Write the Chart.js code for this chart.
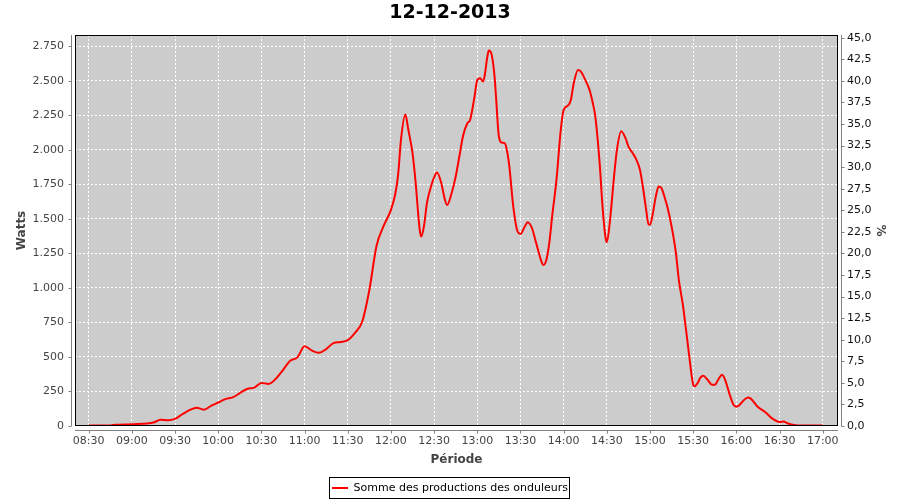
<!DOCTYPE html>
<html><head><meta charset="utf-8">
<script src="https://cdn.jsdelivr.net/npm/chart.js@4.4.1/dist/chart.umd.min.js"></script>
<style>html,body{margin:0;padding:0;background:#fff}canvas{display:block}</style>
</head><body>
<canvas id="c" width="900" height="500"></canvas>
<script>
const chartTitle = '12-12-2013';
const seriesName = 'Somme des productions des onduleurs';
const xAxisTitle = 'Période';
const yAxisTitle = 'Watts';
const y2AxisTitle = '%';

const times = ['08:30','08:35','08:40','08:45','08:47','08:50','08:55','09:00','09:05','09:10','09:15','09:20','09:25','09:30','09:35','09:40','09:45','09:50','09:55','10:00','10:05','10:10','10:15','10:20','10:25','10:30','10:35','10:40','10:45','10:50','10:55','11:00','11:05','11:10','11:15','11:20','11:25','11:30','11:35','11:40','11:45','11:50','11:55','12:00','12:03','12:05','12:07','12:10','12:12','12:15','12:17','12:20','12:21','12:23','12:25','12:28','12:30','12:32','12:35','12:37','12:39','12:42','12:45','12:48','12:50','12:53','12:55','12:58','13:00','13:02','13:04','13:05','13:07','13:08','13:10','13:12','13:13','13:15','13:17','13:19','13:20','13:22','13:25','13:28','13:30','13:33','13:35','13:38','13:40','13:45','13:46','13:48','13:50','13:52','13:55','13:58','14:00','14:03','14:05','14:07','14:10','14:12','14:15','14:18','14:20','14:22','14:25','14:27','14:29','14:30','14:32','14:35','14:37','14:40','14:43','14:45','14:48','14:50','14:53','14:55','14:57','14:59','15:00','15:02','15:04','15:06','15:08','15:10','15:12','15:15','15:18','15:20','15:23','15:25','15:27','15:29','15:30','15:31','15:33','15:35','15:37','15:40','15:43','15:45','15:48','15:50','15:52','15:55','15:58','16:00','16:02','16:05','16:08','16:10','16:15','16:20','16:25','16:30','16:33','16:35','16:40','16:45','16:50','16:55','17:00'];
const watts = [3,3,3,3,8,9,10,12,15,18,25,45,42,52,85,115,133,118,145,170,195,207,238,268,278,312,305,342,405,473,497,578,547,530,557,600,608,622,675,755,985,1305,1450,1565,1680,1820,2075,2255,2150,1975,1780,1420,1372,1450,1614,1740,1800,1835,1758,1660,1600,1680,1806,1980,2096,2190,2216,2380,2506,2518,2494,2530,2675,2718,2687,2530,2385,2096,2052,2048,2023,1903,1589,1408,1391,1444,1476,1433,1360,1179,1165,1203,1324,1517,1782,2144,2289,2320,2361,2482,2578,2566,2506,2433,2349,2240,1903,1589,1372,1330,1469,1806,2000,2135,2084,2023,1975,1939,1855,1734,1589,1460,1457,1541,1661,1734,1722,1661,1589,1444,1252,1059,865,697,528,359,299,287,310,350,364,335,299,299,347,371,340,239,154,140,150,185,207,198,137,101,53,29,33,22,7,3,3,3,3];

const xTickLabels = ['08:30','09:00','09:30','10:00','10:30','11:00','11:30','12:00','12:30','13:00','13:30','14:00','14:30','15:00','15:30','16:00','16:30','17:00'];
const wattTicks = [0,250,500,750,1000,1250,1500,1750,2000,2250,2500,2750];
const pctTicks = [0,2.5,5,7.5,10,12.5,15,17.5,20,22.5,25,27.5,30,32.5,35,37.5,40,42.5,45];
const xMinMinutes = 500.5, xMaxMinutes = 1030.6;
const wattMax = 2831, pctMax = 45.31;

const toMin = s => { const [h, m] = s.split(':').map(Number); return h * 60 + m; };
const fmtW = v => String(v).replace(/\B(?=(\d{3})+(?!\d))/g, '.');
const fmtPct = v => v.toFixed(1).replace('.', ',');

Chart.defaults.font.family = "'DejaVu Sans', sans-serif";

const framePlugin = {
  id: 'frame',
  afterUpdate(chart) {
    const lg = chart.legend;
    if (lg) {
      lg.top += 3.5; lg.bottom += 3.5;
      (lg.legendHitBoxes || []).forEach(h => { h.top += 3.5; });
    }
  },
  beforeDraw(chart) {
    const {ctx, chartArea: a} = chart;
    ctx.save();
    ctx.fillStyle = '#CCCCCC';
    ctx.fillRect(a.left, a.top, a.right - a.left, a.bottom - a.top);
    ctx.restore();
  },
  afterDraw(chart) {
    const {ctx, chartArea: a, scales} = chart;
    ctx.save();
    ctx.strokeStyle = '#000';
    ctx.lineWidth = 1;
    ctx.strokeRect(a.left + 0.5, a.top + 0.5, a.right - a.left - 1, a.bottom - a.top - 1);
    ctx.strokeStyle = '#808080';
    ctx.beginPath();
    const lx = a.left - 3.5;
    ctx.moveTo(lx, a.top); ctx.lineTo(lx, a.bottom);
    scales.y.ticks.forEach(t => { const p = Math.round(scales.y.getPixelForValue(t.value)) + 0.5; ctx.moveTo(lx - 3, p); ctx.lineTo(lx, p); });
    const rx = a.right + 3.5;
    ctx.moveTo(rx, a.top); ctx.lineTo(rx, a.bottom);
    scales.y2.ticks.forEach(t => { const p = Math.round(scales.y2.getPixelForValue(t.value)) + 0.5; ctx.moveTo(rx, p); ctx.lineTo(rx + 3, p); });
    const by = a.bottom + 4.5;
    ctx.moveTo(a.left, by); ctx.lineTo(a.right, by);
    scales.x.ticks.forEach(t => { const p = Math.round(scales.x.getPixelForValue(t.value)) + 0.5; ctx.moveTo(p, by); ctx.lineTo(p, by + 3); });
    ctx.stroke();
    const lg = chart.legend;
    if (lg && lg.legendHitBoxes && lg.legendHitBoxes.length) {
      const h = lg.legendHitBoxes[0];
      ctx.strokeStyle = '#000';
      ctx.strokeRect(Math.round(h.left) - 2.5, Math.round(h.top + h.height / 2) - 10.5, Math.round(h.width) + 4, 21);
    }
    ctx.restore();
  }
};

new Chart(document.getElementById('c'), {
  type: 'line',
  data: {
    datasets: [{
      label: seriesName,
      data: times.map((t, i) => ({x: toMin(t), y: watts[i]})),
      borderColor: '#FF0000',
      backgroundColor: '#FF0000',
      borderWidth: 2,
      pointRadius: 0,
      fill: false,
      cubicInterpolationMode: 'monotone',
      yAxisID: 'y'
    }]
  },
  options: {
    responsive: false,
    animation: false,
    layout: {padding: 0},
    plugins: {
      title: {display: true, text: chartTitle, color: '#000', font: {size: 19, weight: 'bold'}, padding: {top: 1.6, bottom: 10.6}},
      legend: {
        position: 'bottom',
        labels: {usePointStyle: true, pointStyle: 'line', pointStyleWidth: 16, color: '#000', font: {size: 11}, padding: 6}
      },
      tooltip: {enabled: false}
    },
    scales: {
      x: {
        type: 'linear', position: 'bottom', min: xMinMinutes, max: xMaxMinutes,
        afterBuildTicks: s => { s.ticks = xTickLabels.map(l => ({value: toMin(l)})); },
        afterFit: s => { s.height = 47; },
        ticks: {autoSkip: false, maxRotation: 0, color: '#444', font: {size: 11}, padding: 3,
          callback: (v, i) => xTickLabels[i]},
        grid: {color: '#FFFFFF', lineWidth: 1, tickLength: 6, tickColor: 'rgba(0,0,0,0)'},
        border: {display: false, dash: [2, 2]},
        title: {display: true, text: xAxisTitle, color: '#444', font: {size: 12, weight: 'bold'}, padding: {top: 0, bottom: 5.8}}
      },
      y: {
        type: 'linear', position: 'left', min: 0, max: wattMax,
        afterBuildTicks: s => { s.ticks = wattTicks.map(v => ({value: v})); },
        afterFit: s => { s.width = 75; },
        ticks: {color: '#444', font: {size: 11}, padding: 5, callback: v => fmtW(v)},
        grid: {color: '#FFFFFF', lineWidth: 1, tickLength: 6, tickColor: 'rgba(0,0,0,0)'},
        border: {display: false, dash: [2, 2]},
        title: {display: true, text: yAxisTitle, color: '#444', font: {size: 12, weight: 'bold'}, padding: {top: 14.3, bottom: 0}}
      },
      y2: {
        type: 'linear', position: 'right', min: 0, max: pctMax,
        afterBuildTicks: s => { s.ticks = pctTicks.map(v => ({value: v})); },
        afterFit: s => { s.width = 62; },
        ticks: {color: '#111', font: {size: 11}, padding: 3, callback: v => fmtPct(v)},
        grid: {drawOnChartArea: false, tickLength: 6, tickColor: 'rgba(0,0,0,0)'},
        border: {display: false},
        title: {display: true, text: y2AxisTitle, color: '#444', font: {size: 12, weight: 'bold'}, padding: {top: 12.8, bottom: 0}}
      }
    }
  },
  plugins: [framePlugin]
});
</script>
</body></html>
